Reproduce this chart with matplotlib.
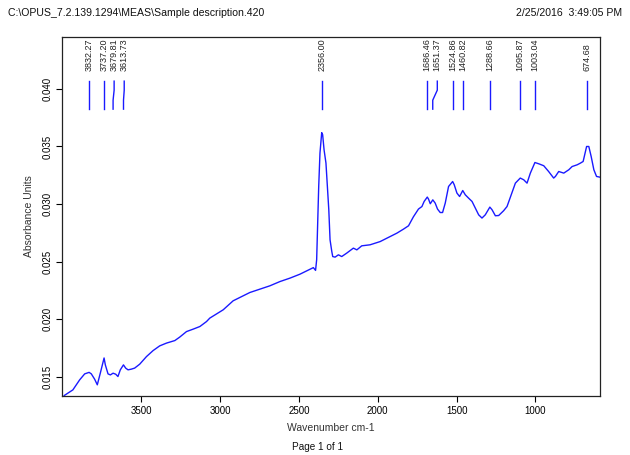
"""
OPUS absorbance spectrum printout, redrawn with matplotlib.
"""

import matplotlib
matplotlib.use("Agg")
import matplotlib.pyplot as plt
import matplotlib.transforms as mtransforms

plt.rcParams.update({
    "font.family": ["Liberation Sans", "DejaVu Sans"],
    "font.size": 7,
})

# Spectrum (wavenumber cm-1, absorbance units)
wavenumber = [
    3990, 3935, 3892, 3860, 3832, 3818, 3797, 3780, 3761, 3737, 3729, 3712,
    3697, 3680, 3663, 3649, 3634, 3614, 3600, 3585, 3564, 3543, 3511, 3468,
    3426, 3384, 3341, 3288, 3257, 3214, 3172, 3129, 3087, 3066, 2981, 2918,
    2854, 2812, 2748, 2685, 2621, 2557, 2494, 2451, 2409, 2395, 2388, 2381,
    2375, 2367, 2356, 2350, 2341, 2329, 2320, 2311, 2303, 2292, 2286, 2271,
    2250, 2229, 2197, 2155, 2133, 2102, 2049, 1985, 1922, 1879, 1837, 1805,
    1774, 1742, 1720, 1706, 1686, 1678, 1667, 1651, 1636, 1621, 1604, 1589,
    1572, 1551, 1525, 1515, 1498, 1481, 1461, 1445, 1424, 1402, 1381, 1360,
    1339, 1318, 1289, 1275, 1254, 1233, 1202, 1180, 1159, 1127, 1096, 1074,
    1053, 1032, 1003, 979, 947, 916, 884, 873, 852, 820, 788, 767, 735, 714,
    697, 675, 661, 646, 629, 612, 591,
]
absorbance = [
    0.01339, 0.01388, 0.01475, 0.01527, 0.01540, 0.01527, 0.01481, 0.01432,
    0.01533, 0.01665, 0.01605, 0.01527, 0.01518, 0.01533, 0.01524, 0.01504,
    0.01562, 0.01605, 0.01577, 0.01562, 0.01568, 0.01577, 0.01611, 0.01677,
    0.01729, 0.01770, 0.01794, 0.01816, 0.01846, 0.01894, 0.01915, 0.01938,
    0.01981, 0.02011, 0.02083, 0.02161, 0.02204, 0.02233, 0.02262, 0.02291,
    0.02328, 0.02358, 0.02392, 0.02421, 0.02449, 0.02425, 0.02517, 0.02864,
    0.03153, 0.03443, 0.03620, 0.03602, 0.03471, 0.03356, 0.03153, 0.02951,
    0.02690, 0.02589, 0.02545, 0.02540, 0.02560, 0.02545, 0.02575, 0.02618,
    0.02603, 0.02638, 0.02647, 0.02675, 0.02719, 0.02748, 0.02783, 0.02812,
    0.02890, 0.02957, 0.02979, 0.03023, 0.03061, 0.03043, 0.03003, 0.03037,
    0.03009, 0.02957, 0.02927, 0.02927, 0.03009, 0.03153, 0.03196, 0.03168,
    0.03096, 0.03066, 0.03118, 0.03081, 0.03052, 0.03023, 0.02965, 0.02907,
    0.02879, 0.02907, 0.02974, 0.02951, 0.02899, 0.02901, 0.02942, 0.02979,
    0.03059, 0.03182, 0.03226, 0.03211, 0.03182, 0.03269, 0.03361, 0.03350,
    0.03333, 0.03283, 0.03226, 0.03240, 0.03283, 0.03269, 0.03298, 0.03326,
    0.03341, 0.03356, 0.03370, 0.03500, 0.03500, 0.03413, 0.03298, 0.03240,
    0.03234,
]

# Peak-pick results printed above the trace
peaks = [3832.27, 3737.20, 3679.81, 3613.73, 2356.00, 1686.46, 1651.37,
         1524.86, 1460.82, 1288.66, 1095.87, 1003.04, 674.68]

header_left = "C:\\OPUS_7.2.139.1294\\MEAS\\Sample description.420"
header_right = "2/25/2016  3:49:05 PM"

BLUE = "#1a1aff"

fig = plt.figure(figsize=(6.3, 4.55), dpi=100)
ax = fig.add_axes([62 / 630, 59 / 455, 538 / 630, 359 / 455])

ax.plot(wavenumber, absorbance, color=BLUE, lw=1.0)

ax.set_xlim(4004, 590)
ax.set_ylim(0.01335, 0.04450)
ax.set_xticks([3500, 3000, 2500, 2000, 1500, 1000])
ax.set_yticks([0.015, 0.020, 0.025, 0.030, 0.035, 0.040])
ax.set_yticklabels([f"{v:.3f}" for v in ax.get_yticks()],
                   rotation=90, va="center")
ax.tick_params(direction="out", length=4, width=0.8, labelsize=7, pad=3)
ax.set_xlabel("Wavenumber cm-1", fontsize=7.5, color="#333333", labelpad=5)
ax.set_ylabel("Absorbance Units", fontsize=7.5, color="#333333", labelpad=6)
for s in ax.spines.values():
    s.set_linewidth(0.9)
    s.set_color("#222222")

# peak markers: x in data, y in axes fraction; labels nudged apart when crowded
trans = mtransforms.blended_transform_factory(ax.transData, ax.transAxes)
min_gap = 64  # cm-1 between neighbouring labels
label_pos = []
for wn in peaks:
    pos = wn
    if label_pos and label_pos[-1] - pos < min_gap:
        pos = label_pos[-1] - min_gap
    label_pos.append(pos)

for wn, pos in zip(peaks, label_pos):
    if abs(pos - wn) < 1e-6:
        ax.plot([wn, wn], [0.799, 0.877], color=BLUE, lw=1.0,
                transform=trans, clip_on=False)
    else:
        ax.plot([wn, wn, pos, pos], [0.799, 0.824, 0.852, 0.877],
                color=BLUE, lw=1.0, transform=trans, clip_on=False)
    ax.text(pos, 0.905, f"{wn:.2f}", rotation=90, ha="center", va="bottom",
            fontsize=6.5, color="#222222", transform=trans)

fig.text(8 / 630, 1 - 13 / 455, header_left, fontsize=7.6, ha="left",
         va="center", color="#111111")
fig.text(622 / 630, 1 - 13 / 455, header_right, fontsize=7.6, ha="right",
         va="center", color="#111111")
fig.text(318 / 630, 1 - 447 / 455, "Page 1 of 1", fontsize=7.2, ha="center",
         va="center", color="#111111")

fig.savefig("out.png", dpi=100)
